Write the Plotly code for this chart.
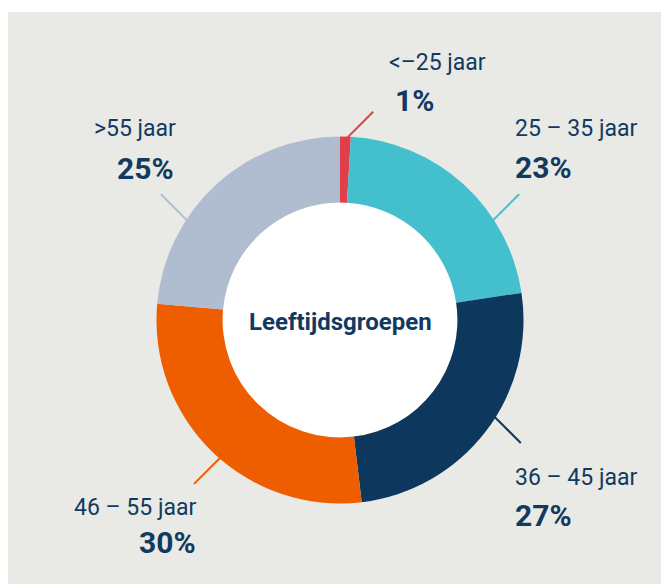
import math
import plotly.graph_objects as go

# ---- data ----
categories = ["<–25 jaar", "25 – 35 jaar", "36 – 45 jaar", "46 – 55 jaar", ">55 jaar"]
values = [1, 23, 27, 30, 25]
pct_labels = ["1%", "23%", "27%", "30%", "25%"]
center_title = "Leeftijdsgroepen"

# ---- style ----
colors = ["#e23d4b", "#44bfce", "#0d375c", "#ee5e00", "#b0bccf"]
text_color = "#123a60"
bg_gray = "#e9e9e5"
OFF = 8                      # page body margin
W, H = 669 - OFF, 584 - OFF  # figure size so it fits the window exactly
cx, cy, R = 340, 320, 183.5  # window pixel coordinates
hole = 0.64

def px(x):
    return (x - OFF) / W

def py(y):
    return 1 - (y - OFF) / H

fig = go.Figure()
fig.add_trace(go.Pie(
    labels=categories, values=values, sort=False, direction="clockwise",
    rotation=0, hole=hole, textinfo="none", hoverinfo="label+percent",
    marker=dict(colors=colors, line=dict(width=0)),
    domain=dict(x=[px(cx - R), px(cx + R)], y=[py(cy + R), py(cy - R)]),
    showlegend=False,
))

shapes = [dict(type="rect", xref="paper", yref="paper", x0=0, x1=1, y0=0, y1=py(12),
               fillcolor=bg_gray, line=dict(width=0), layer="below"),
          dict(type="circle", xref="paper", yref="paper",
               x0=px(cx - R * hole), x1=px(cx + R * hole),
               y0=py(cy + R * hole), y1=py(cy - R * hole),
               fillcolor="white", line=dict(width=0), layer="below")]

# leader-line anchor angles (degrees clockwise from 12 o'clock) and label placement
leader_angles = [2, 57, 122, 221, 303]
leader_len = 38
# (x, y of label, y of pct, anchor, x of pct)
label_pos = [
    (387, 62, 100, "left", 393),
    (513, 128, 167, "left", 513),
    (513, 477, 515, "left", 513),
    (198, 507, 542, "right", 198),
    (178, 128, 168, "right", 176),
]

annotations = []
for i, cat in enumerate(categories):
    a = math.radians(leader_angles[i])
    x0 = cx + (R - 2) * math.sin(a)
    y0 = cy - (R - 2) * math.cos(a)
    sx = 1 if math.sin(a) >= 0 else -1
    sy = -1 if math.cos(a) >= 0 else 1
    d = leader_len / math.sqrt(2)
    x1 = x0 + sx * d
    y1 = y0 + sy * d
    shapes.append(dict(type="line", xref="paper", yref="paper",
                       x0=px(x0), y0=py(y0), x1=px(x1), y1=py(y1),
                       line=dict(color=colors[i], width=2)))
    lx, ly, pyy, anc, pxx = label_pos[i]
    annotations.append(dict(text=cat, x=px(lx), y=py(ly), xref="paper", yref="paper",
                            xanchor=anc, yanchor="middle", showarrow=False,
                            font=dict(family="Roboto", size=23, color=text_color)))
    annotations.append(dict(text="<b>" + pct_labels[i] + "</b>", x=px(pxx), y=py(pyy),
                            xref="paper", yref="paper", xanchor=anc, yanchor="middle",
                            showarrow=False,
                            font=dict(family="Roboto", size=30, color=text_color)))

annotations.append(dict(text="<b>" + center_title + "</b>", x=px(cx), y=py(cy + 2),
                        xref="paper", yref="paper", xanchor="center", yanchor="middle",
                        showarrow=False,
                        font=dict(family="Roboto", size=24, color=text_color)))

fig.update_layout(
    width=W, height=H, margin=dict(l=0, r=0, t=0, b=0),
    paper_bgcolor="white", plot_bgcolor="white",
    shapes=shapes, annotations=annotations,
)

fig.write_html("out.html")
